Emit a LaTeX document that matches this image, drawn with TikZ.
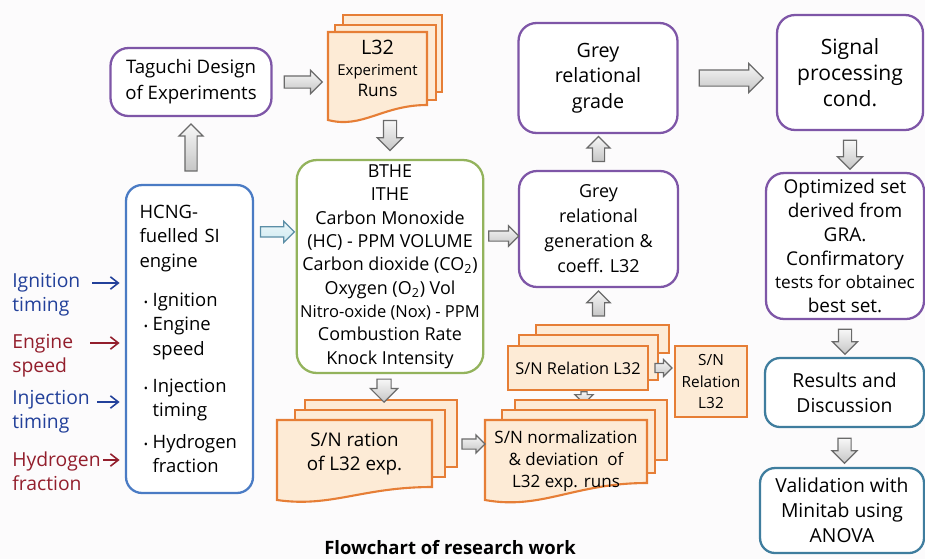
\documentclass[tikz,border=0pt]{standalone}
\usepackage{fontspec}
\usepackage{graphicx}
\setmainfont{Open Sans}
\usetikzlibrary{arrows.meta, shapes.arrows, calc}
\definecolor{tgpurple}{HTML}{7E56A7}
\definecolor{sheetor}{HTML}{E67E36}
\definecolor{sheetfill}{HTML}{FDEBD6}
\definecolor{rungreen}{HTML}{93B35C}
\definecolor{engblue}{HTML}{4A7BC4}
\definecolor{resteal}{HTML}{3F7D9E}
\definecolor{lblblue}{HTML}{22409A}
\definecolor{lblred}{HTML}{931E2C}
\definecolor{arrgray}{HTML}{6A6A6A}
\definecolor{skyfill}{HTML}{CFEAF1}
\definecolor{skyedge}{HTML}{5B8EA6}
\definecolor{paper}{HTML}{FCFBFC}

% wavy document sheet: left, top, right, bottom, rise of right corner
\newcommand{\wavesheet}[5]{%
  \draw[sheet] (#1,#2) -- (#3,#2) -- (#3,{#4-#5})
    .. controls ({#1+0.55*(#3-#1)},{#4-#5}) and ({#1+0.35*(#3-#1)},{#4+0.6*#5}) .. (#1,#4) -- cycle;}
\newcommand{\bul}{\hspace*{2.5pt}\makebox[5pt][l]{\scalebox{0.6}{\textbullet}}}
\newcommand{\bcont}{\hspace*{7.5pt}}

\begin{document}
\begin{tikzpicture}[
  x=0.02cm, y=-0.02cm,
  pbox/.style={
    draw=#1, line width=1.3pt, fill=white, rounded corners=0.36cm,
    align=center, inner sep=2pt, font=\fontsize{11}{14.2}\selectfont
  },
  sheet/.style={draw=sheetor, fill=sheetfill, line width=1.2pt},
  fat/.style={
    single arrow, draw=arrgray, line width=0.7pt, top color=gray!6,
    bottom color=gray!45, minimum width=0pt, inner xsep=0pt, inner ysep=0.06cm,
    single arrow head extend=0.12cm, sloped, allow upside down
  },
  lbl/.style={anchor=west, align=left, inner sep=0pt, font=\fontsize{11}{13.6}\selectfont},
  pin/.style={-{Straight Barb[length=4.5pt, width=7pt]}, line width=0.9pt, shorten >=3pt},
]

% Background
\fill[paper] (0,0) rectangle (925,559);
\useasboundingbox (0,0) rectangle (925,559);

% =============================================
% Stacked sheets
% =============================================
% L32 runs
\draw[sheet] (343,15) rectangle (442,92);
\draw[sheet] (335,25) rectangle (436,100);
\wavesheet{328}{32}{427}{120}{15}
\node[minimum width=1.98cm, minimum height=1.46cm, align=center, inner sep=0pt] (l32) at (377.5,68.5)
  {{\fontsize{11.3}{12.5}\selectfont L32}\\
   {\fontsize{8.5}{12.5}\selectfont Experiment}\\
   {\fontsize{9.8}{12.5}\selectfont Runs}};

% S/N ration
\draw[sheet] (305,400) rectangle (457,467);
\draw[sheet] (295,410) rectangle (445,477);
\wavesheet{277}{420}{432}{500}{13}
\coordinate (rationbk) at (457,400);
\coordinate (rationtop) at (384,400);
\node[minimum width=3.1cm, minimum height=1.34cm, align=center, inner sep=0pt,
      font=\fontsize{10.7}{13.6}\selectfont] (ration) at (354.5,454)
  {S/N ration\\of L32 exp.};

% S/N relation L32
\draw[sheet] (536,325) rectangle (669,353);
\draw[sheet] (519,335) rectangle (658,380);
\draw[sheet] (508,346) rectangle (648,390);
\coordinate (reltop) at (598,325);
\node[minimum width=2.8cm, minimum height=0.88cm, inner sep=0pt,
      font=\fontsize{9.3}{12}\selectfont] (rel) at (578,368) {S/N Relation L32};
\node[sheet, minimum width=1.44cm, minimum height=1.42cm, align=center, inner sep=0pt,
      font=\fontsize{8.75}{12.2}\selectfont] (relbox) at (711,381.5)
  {S/N\\Relation\\L32};

% Relation -> normalization (partly hidden)
\coordinate (normtop) at (584,402);
\path (rel.south -| normtop) -- node[fat, minimum height=0.24cm, inner ysep=0.05cm,
  single arrow head extend=0.12cm] {} (normtop);

% S/N normalization
\draw[sheet] (515,400) rectangle (667,460);
\draw[sheet] (502,410) rectangle (655,473);
\wavesheet{485}{420}{647}{500}{17}
\node[minimum width=3.24cm, minimum height=1.6cm, align=center, inner sep=0pt,
      font=\fontsize{9.7}{12.5}\selectfont] (norm) at (566,461)
  {S/N normalization\\\& deviation\ \ of\\L32 exp. runs};

% =============================================
% Boxes
% =============================================
\node[pbox=tgpurple, minimum width=3.22cm, minimum height=1.36cm,
      font=\fontsize{10.6}{14.8}\selectfont] (tag) at (191,82)
  {Taguchi Design\\of Experiments};

\node[pbox=tgpurple, minimum width=3.18cm, minimum height=2.2cm,
      font=\fontsize{11.2}{14.5}\selectfont] (grade) at (598,78)
  {Grey\\relational\\grade};

\node[pbox=tgpurple, minimum width=2.92cm, minimum height=2.3cm,
      font=\fontsize{12}{14.8}\selectfont] (signal) at (850,72.5)
  {Signal\\processing\\cond.};

\node[pbox=tgpurple, minimum width=3.18cm, minimum height=2.32cm,
      font=\fontsize{10.2}{14.2}\selectfont] (gen) at (598.5,229)
  {Grey\\relational\\generation \&\\coeff. L32};

\node[pbox=tgpurple, minimum width=3.16cm, minimum height=2.92cm,
      font=\fontsize{10.8}{13.6}\selectfont] (opt) at (845,246)
  {Optimized set\\derived from\\GRA.\\Confirmatory\\
   {\fontsize{9.8}{13.6}\selectfont tests for obtainec}\\best set.};

\node[pbox=resteal, rounded corners=0.3cm, minimum width=3.18cm, minimum height=1.38cm] (res) at (844.5,392.5)
  {Results and\\Discussion};

\node[pbox=resteal, rounded corners=0.3cm, minimum width=3.28cm, minimum height=1.7cm] (val) at (842,510.5)
  {Validation with\\Minitab using\\ANOVA};

\node[pbox=rungreen, rounded corners=0.4cm, minimum width=3.72cm, minimum height=4.26cm,
      font=\fontsize{10.2}{13.3}\selectfont] (btp) at (390,266.5)
  {BTHE\\ITHE\\Carbon Monoxide\\(HC) - PPM VOLUME\\
   Carbon dioxide (CO\textsubscript{2})\\Oxygen (O\textsubscript{2}) Vol\\
   {\fontsize{9.4}{13.3}\selectfont Nitro-oxide (Nox) - PPM}\\
   Combustion Rate\\Knock Intensity};

\node[pbox=engblue, rounded corners=0.32cm, minimum width=2.54cm, minimum height=6.16cm,
      text width=2.0cm, align=left, font=\fontsize{10.5}{14}\selectfont] (hcng) at (189.5,339)
  {HCNG-\\fuelled SI\\engine\\[8pt]
   \bul Ignition\\\bul Engine\\\bcont speed\\[7pt]
   \bul Injection\\\bcont timing\\[4pt]
   \bul Hydrogen\\\bcont fraction};

% =============================================
% Block arrows
% =============================================
\path (tag.east) -- node[fat, minimum height=0.76cm, inner ysep=0.11cm,
  single arrow head extend=0.11cm] {} (tag.east -| l32.west);
\path (btp.north |- l32.south) -- node[fat, minimum height=0.6cm, inner ysep=0.12cm] {} (btp.north);
\path (tag.south |- hcng.north) -- node[fat, minimum height=0.94cm, inner ysep=0.11cm,
  single arrow head extend=0.12cm] {} (tag.south);

\coordinate (hcngout) at ([yshift=-0.96cm]hcng.north east);
\path (hcngout) -- node[fat, draw=skyedge, top color=skyfill!40, bottom color=skyfill,
  minimum height=0.68cm, inner ysep=0.09cm, single arrow head extend=0.11cm] {} (hcngout -| btp.west);

\coordinate (genin) at ([yshift=-0.14cm]gen.west);
\path (genin -| btp.east) -- node[fat, minimum height=0.6cm, inner ysep=0.09cm,
  single arrow head extend=0.1cm] {} (genin);

\path (gen.north) -- node[fat, minimum height=0.5cm, inner ysep=0.11cm,
  single arrow head extend=0.11cm] {} (gen.north |- grade.south);
\path (grade.east) -- node[fat, minimum height=1.28cm, inner ysep=0.15cm,
  single arrow head extend=0.13cm] {} (grade.east -| signal.west);
\path (signal.south) -- node[fat, minimum height=0.58cm, inner ysep=0.12cm] {} (signal.south |- opt.north);
\path (opt.south) -- node[fat, minimum height=0.5cm, inner ysep=0.12cm] {} (opt.south |- res.north);
\path (res.south) -- node[fat, minimum height=0.5cm, inner ysep=0.12cm] {} (res.south |- val.north);
\path (rationtop |- btp.south) -- node[fat, minimum height=0.46cm, inner ysep=0.13cm,
  single arrow head extend=0.13cm] {} (rationtop);

\coordinate (normin) at (485,444);
\path (normin -| rationbk) -- node[fat, minimum height=0.46cm, inner ysep=0.09cm,
  single arrow head extend=0.08cm] {} (normin);
\path (gen.south |- reltop) -- node[fat, minimum height=0.5cm, inner ysep=0.11cm,
  single arrow head extend=0.11cm] {} (gen.south);
\path (rel.east) -- node[fat, minimum height=0.34cm, inner ysep=0.08cm,
  single arrow head extend=0.075cm] {} (rel.east -| relbox.west);

% =============================================
% Engine inputs
% =============================================
\node[lbl, text=lblblue] (ign) at (12,294.5) {Ignition\\timing};
\node[lbl, text=lblred]  (spd) at (12,356)   {Engine\\speed};
\node[lbl, text=lblblue] (inj) at (12,412)   {Injection\\timing};
\node[lbl, text=lblred]  (hyd) at (12,471.5) {Hydrogen\\fraction};

\coordinate (ignA) at (92,283);
\coordinate (spdA) at (90,343);
\coordinate (injA) at (97,402);
\coordinate (hydA) at (103,460);
\draw[pin, lblblue] (ignA) -- (ignA -| hcng.west);
\draw[pin, lblred]  (spdA) -- (spdA -| hcng.west);
\draw[pin, lblblue] (injA) -- (injA -| hcng.west);
\draw[pin, lblred]  (hydA) -- (hydA -| hcng.west);

% Title
\node[font=\bfseries\fontsize{10.5}{12}\selectfont] (title) at (450,548) {Flowchart of research work};

\end{tikzpicture}
\end{document}
